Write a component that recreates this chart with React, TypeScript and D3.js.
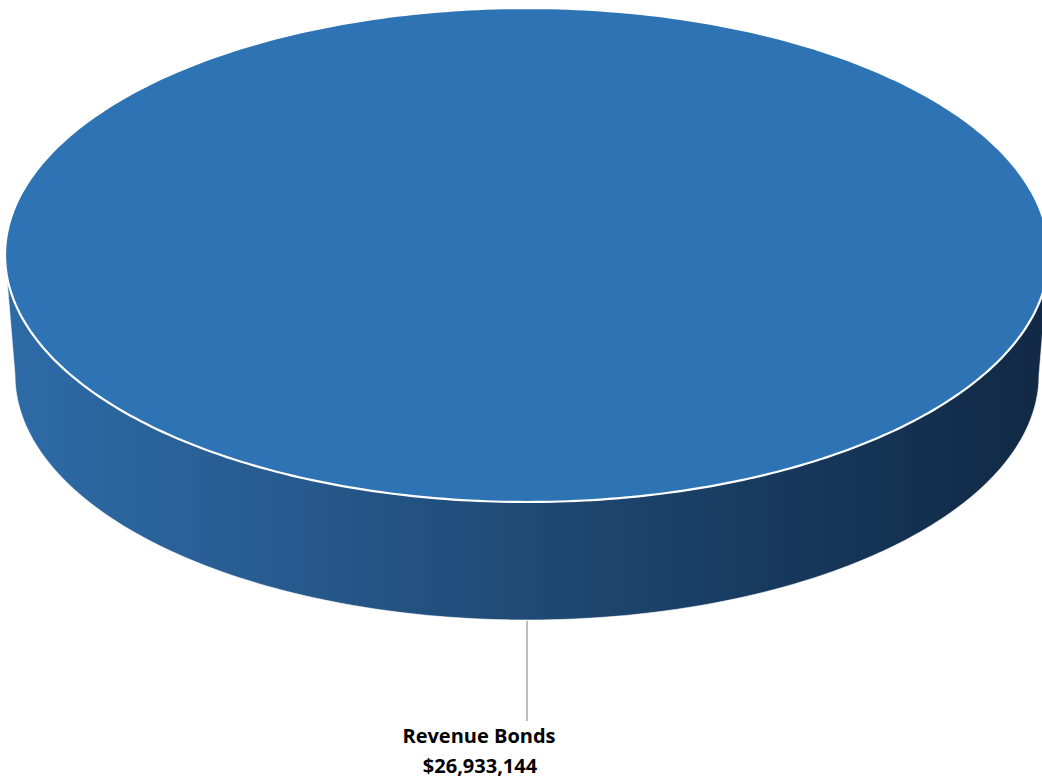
import React from "react";
import * as d3 from "d3";

const categories: string[] = ["Revenue Bonds"];
const values: number[] = [26933144];

const W = 1042;
const H = 779;

export default function App() {
  const cx = 527;
  const cy = 255;
  const rx = 522;
  const ry = 247;
  const cyb = 375;
  const rxb = 512;
  const ryb = 245;

  const pie = d3.pie<number>().sort(null).value((d) => d);
  const arcs = pie(values);
  const fmt = d3.format("$,.0f");

  const topPt = (a: number): [number, number] => [cx + rx * Math.sin(a), cy - ry * Math.cos(a)];
  const botPt = (a: number): [number, number] => [cx + rxb * Math.sin(a), cyb - ryb * Math.cos(a)];

  const line = d3.line<[number, number]>().curve(d3.curveLinear);

  const samples = (a0: number, a1: number, n: number) => d3.range(n + 1).map((i) => a0 + ((a1 - a0) * i) / n);

  return (
    <svg width={W} height={H} style={{ position: "absolute", left: 0, top: 0 }} fontFamily="'Open Sans', sans-serif">
      <defs>
        <linearGradient id="sideGrad" x1="0" y1="0" x2="1" y2="0">
          <stop offset="0" stopColor="#2d6ba7" />
          <stop offset="0.2" stopColor="#295f95" />
          <stop offset="0.5" stopColor="#1f4a75" />
          <stop offset="0.75" stopColor="#17385c" />
          <stop offset="1" stopColor="#112944" />
        </linearGradient>
      </defs>
      {arcs.map((a, i) => {
        const full = a.endAngle - a.startAngle >= 2 * Math.PI - 1e-6;
        const s0 = Math.max(a.startAngle, Math.PI / 2);
        const s1 = Math.min(a.endAngle, (3 * Math.PI) / 2);
        const sidePts: [number, number][] =
          s1 > s0
            ? [...samples(s0, s1, 200).map(topPt), ...samples(s1, s0, 200).map(botPt)]
            : [];
        const topPts: [number, number][] = full
          ? samples(a.startAngle, a.endAngle, 400).map(topPt)
          : [[cx, cy], ...samples(a.startAngle, a.endAngle, 400).map(topPt)];
        const mid = (a.startAngle + a.endAngle) / 2;
        const [lx, ly] = botPt(mid);
        return (
          <g key={i}>
            {sidePts.length > 0 && (
              <path d={line(sidePts)! + "Z"} fill="url(#sideGrad)" stroke="#ffffff" strokeOpacity={0.6} strokeWidth={1} />
            )}
            <path d={line(topPts)! + "Z"} fill="#2e74b5" stroke="#ffffff" strokeWidth={2.2} />
            <line x1={lx} y1={ly + 1} x2={lx} y2={721} stroke="#a6a6a6" strokeWidth={1.5} />
            <text x={479} y={743} textAnchor="middle" fontSize={20} fontWeight={700} fill="#000">
              {categories[i]}
            </text>
            <text x={480} y={773} textAnchor="middle" fontSize={20} fontWeight={700} fill="#000">
              {fmt(values[i])}
            </text>
          </g>
        );
      })}
    </svg>
  );
}
